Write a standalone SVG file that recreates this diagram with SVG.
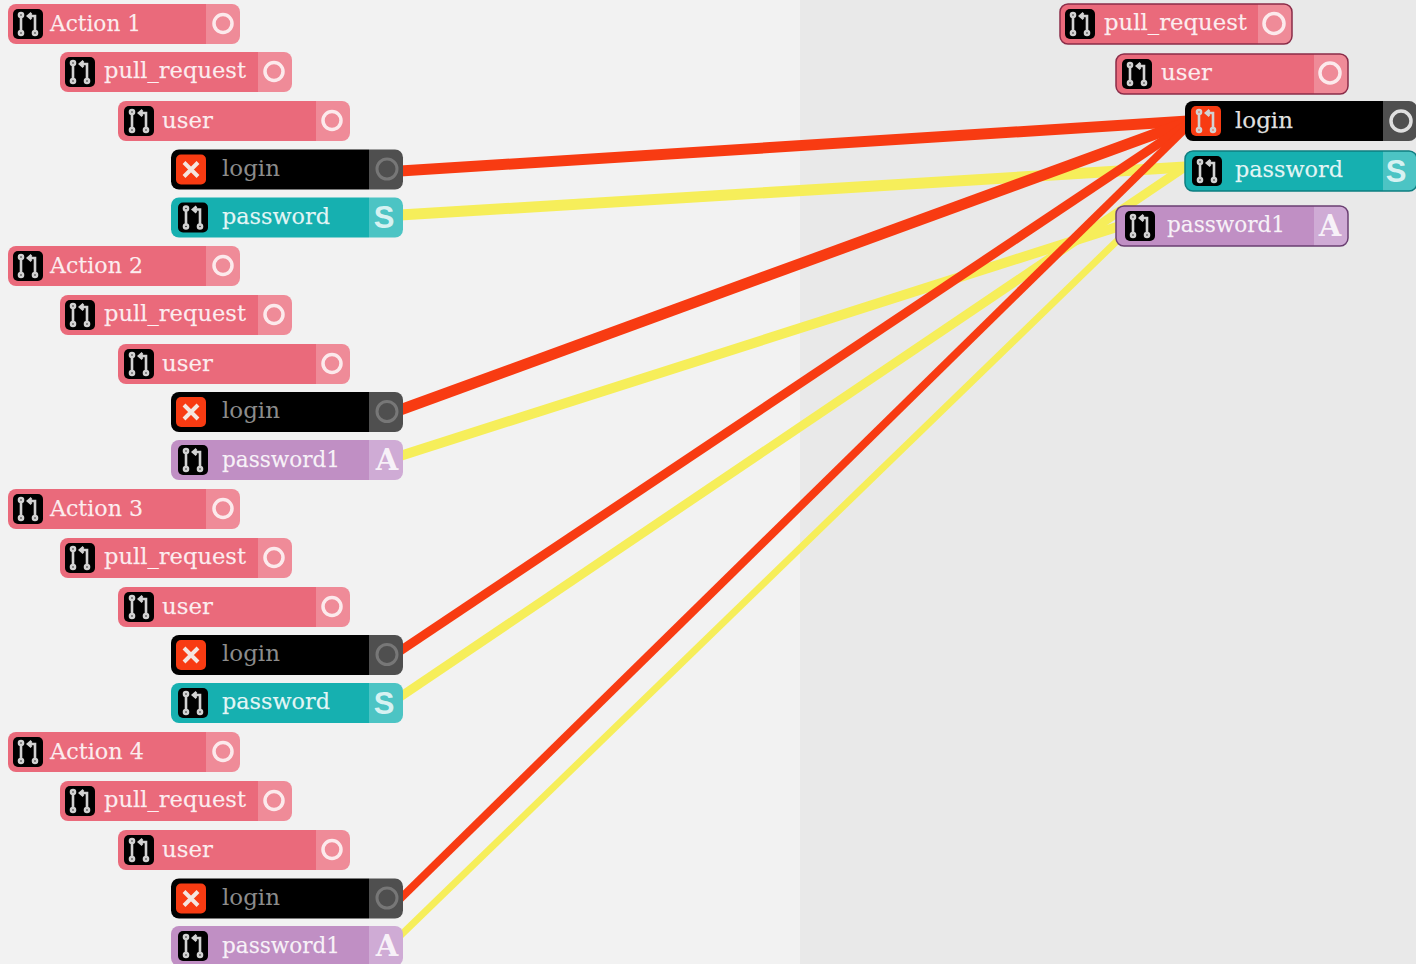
<svg xmlns="http://www.w3.org/2000/svg" xmlns:xlink="http://www.w3.org/1999/xlink" width="1416" height="964" viewBox="0 0 1416 964">
<style>
.t{font-family:"DejaVu Serif","Liberation Serif",serif;font-size:22.5px;fill:#fff;fill-opacity:.88;stroke:#fff;stroke-width:.25;stroke-opacity:.6}
.dim{fill:#8c8c8c;fill-opacity:1;stroke:none}
.cl{font-size:29px;font-weight:bold;text-anchor:middle;fill:#fff;fill-opacity:.85;stroke:none}
.s{font-family:"Liberation Sans",sans-serif;font-size:31px;font-weight:bold;text-anchor:middle;fill:#fff;fill-opacity:.8}
.red .b{fill:#ea6a7b}.red .c{fill:#ef8b98}
.blk .b{fill:#000}.blk .c{fill:#4f4f4f}
.teal .b{fill:#16b0b0}.teal .c{fill:#4cc4c4}
.pur .b{fill:#c08fc4}.pur .c{fill:#cfabd5}
.ring{fill:none;stroke:#fff;stroke-width:3.5;stroke-opacity:.82}
.ringd{fill:none;stroke:#777;stroke-width:3}
.bd{fill:none;stroke-width:1.5}
.r{stroke:#f83b12;fill:none}.y{stroke:#f6ee5a;fill:none}
.ic{fill:none;stroke:#d2d2d2;stroke-width:2.6}
</style>
<defs>
<path id="body" d="M8 0H198V40H8A8 8 0 0 1 0 32V8A8 8 0 0 1 8 0Z"/>
<path id="cap" d="M198 0H224A8 8 0 0 1 232 8V32A8 8 0 0 1 224 40H198Z"/>
<rect id="outline" width="232" height="40" rx="8"/>
<g id="pr">
<path class="ic" d="M-7-7V7M7 7V-8H1M3.500-11L0-8L3.500-5"/>
<circle class="ic" cx="-7" cy="-9" r="2" stroke-width="2"/><circle class="ic" cx="-7" cy="9" r="2" stroke-width="2"/><circle class="ic" cx="7" cy="9" r="2" stroke-width="2"/>
</g>
<g id="icon"><rect x="-15" y="-15" width="30" height="30" rx="5" fill="#000"/><use href="#pr"/></g>
<g id="iconr"><rect x="-15" y="-15" width="30" height="30" rx="5" fill="#f83b12"/><use href="#pr"/></g>
<g id="iconx"><rect x="-15" y="-15" width="30" height="30" rx="5" fill="#f83b12"/><path d="M-7-7L7 7M7-7L-7 7" stroke="#f4e6e0" stroke-width="4"/></g>
</defs>
<rect width="800" height="964" fill="#f2f2f2"/>
<rect x="800" width="616" height="964" fill="#e9e9e9"/>
<g id="connectors" stroke-linecap="butt">
<line class="y" x1="400" y1="215" x2="1185" y2="167" stroke-width="11"/>
<line class="y" x1="400" y1="456" x2="1120" y2="226" stroke-width="10"/>
<line class="y" x1="400" y1="697" x2="1185" y2="167" stroke-width="9"/>
<line class="y" x1="400" y1="936" x2="1120" y2="238" stroke-width="7"/>
<line class="r" x1="400" y1="171" x2="1188" y2="121" stroke-width="11"/>
<line class="r" x1="400" y1="410" x2="1188" y2="122" stroke-width="11"/>
<line class="r" x1="400" y1="651" x2="1188" y2="124" stroke-width="9"/>
<line class="r" x1="400" y1="899" x2="1188" y2="126" stroke-width="8"/>
</g>
<g id="a1" class="red" transform="translate(8 4)"><use href="#body" class="b"/><use href="#cap" class="c"/><use href="#icon" x="20" y="20"/><circle class="ring" cx="215" cy="19.500" r="9"/><text class="t" x="42" y="27" textLength="91" lengthAdjust="spacingAndGlyphs">Action 1</text></g>
<g id="a1-pr" class="red" transform="translate(60 52)"><use href="#body" class="b"/><use href="#cap" class="c"/><use href="#icon" x="20" y="20"/><circle class="ring" cx="214" cy="19.500" r="9"/><text class="t" x="44" y="26" textLength="142" lengthAdjust="spacingAndGlyphs">pull_request</text></g>
<g id="a1-user" class="red" transform="translate(118 101)"><use href="#body" class="b"/><use href="#cap" class="c"/><use href="#icon" x="21" y="20"/><circle class="ring" cx="214" cy="19.500" r="9"/><text class="t" x="44" y="27" textLength="51" lengthAdjust="spacingAndGlyphs">user</text></g>
<g id="a1-login" class="blk" transform="translate(171 149.500)"><use href="#body" class="b"/><use href="#cap" class="c"/><use href="#iconx" x="20" y="20"/><circle class="ringd" cx="216" cy="19.500" r="10"/><text class="t dim" x="51" y="26" textLength="58" lengthAdjust="spacingAndGlyphs">login</text></g>
<g id="a1-pw" class="teal" transform="translate(171 197.500)"><use href="#body" class="b"/><use href="#cap" class="c"/><use href="#icon" x="22" y="20"/><text class="s" x="213" y="30">S</text><text class="t" x="51" y="26" textLength="108" lengthAdjust="spacingAndGlyphs">password</text></g>
<g id="a2" class="red" transform="translate(8 246)"><use href="#body" class="b"/><use href="#cap" class="c"/><use href="#icon" x="20" y="20"/><circle class="ring" cx="215" cy="19.500" r="9"/><text class="t" x="42" y="27" textLength="93" lengthAdjust="spacingAndGlyphs">Action 2</text></g>
<g id="a2-pr" class="red" transform="translate(60 295)"><use href="#body" class="b"/><use href="#cap" class="c"/><use href="#icon" x="20" y="20"/><circle class="ring" cx="214" cy="19.500" r="9"/><text class="t" x="44" y="26" textLength="142" lengthAdjust="spacingAndGlyphs">pull_request</text></g>
<g id="a2-user" class="red" transform="translate(118 344)"><use href="#body" class="b"/><use href="#cap" class="c"/><use href="#icon" x="21" y="20"/><circle class="ring" cx="214" cy="19.500" r="9"/><text class="t" x="44" y="27" textLength="51" lengthAdjust="spacingAndGlyphs">user</text></g>
<g id="a2-login" class="blk" transform="translate(171 392)"><use href="#body" class="b"/><use href="#cap" class="c"/><use href="#iconx" x="20" y="20"/><circle class="ringd" cx="216" cy="19.500" r="10"/><text class="t dim" x="51" y="26" textLength="58" lengthAdjust="spacingAndGlyphs">login</text></g>
<g id="a2-pw" class="pur" transform="translate(171 440)"><use href="#body" class="b"/><use href="#cap" class="c"/><use href="#icon" x="22" y="20"/><text class="t cl" x="216" y="30">A</text><text class="t" x="51" y="27" textLength="118" lengthAdjust="spacingAndGlyphs">password1</text></g>
<g id="a3" class="red" transform="translate(8 489)"><use href="#body" class="b"/><use href="#cap" class="c"/><use href="#icon" x="20" y="20"/><circle class="ring" cx="215" cy="19.500" r="9"/><text class="t" x="42" y="27" textLength="93" lengthAdjust="spacingAndGlyphs">Action 3</text></g>
<g id="a3-pr" class="red" transform="translate(60 538)"><use href="#body" class="b"/><use href="#cap" class="c"/><use href="#icon" x="20" y="20"/><circle class="ring" cx="214" cy="19.500" r="9"/><text class="t" x="44" y="26" textLength="142" lengthAdjust="spacingAndGlyphs">pull_request</text></g>
<g id="a3-user" class="red" transform="translate(118 587)"><use href="#body" class="b"/><use href="#cap" class="c"/><use href="#icon" x="21" y="20"/><circle class="ring" cx="214" cy="19.500" r="9"/><text class="t" x="44" y="27" textLength="51" lengthAdjust="spacingAndGlyphs">user</text></g>
<g id="a3-login" class="blk" transform="translate(171 635)"><use href="#body" class="b"/><use href="#cap" class="c"/><use href="#iconx" x="20" y="20"/><circle class="ringd" cx="216" cy="19.500" r="10"/><text class="t dim" x="51" y="26" textLength="58" lengthAdjust="spacingAndGlyphs">login</text></g>
<g id="a3-pw" class="teal" transform="translate(171 683)"><use href="#body" class="b"/><use href="#cap" class="c"/><use href="#icon" x="22" y="20"/><text class="s" x="213" y="31">S</text><text class="t" x="51" y="26" textLength="108" lengthAdjust="spacingAndGlyphs">password</text></g>
<g id="a4" class="red" transform="translate(8 732)"><use href="#body" class="b"/><use href="#cap" class="c"/><use href="#icon" x="20" y="20"/><circle class="ring" cx="215" cy="19.500" r="9"/><text class="t" x="42" y="27" textLength="94" lengthAdjust="spacingAndGlyphs">Action 4</text></g>
<g id="a4-pr" class="red" transform="translate(60 781)"><use href="#body" class="b"/><use href="#cap" class="c"/><use href="#icon" x="20" y="20"/><circle class="ring" cx="214" cy="19.500" r="9"/><text class="t" x="44" y="26" textLength="142" lengthAdjust="spacingAndGlyphs">pull_request</text></g>
<g id="a4-user" class="red" transform="translate(118 830)"><use href="#body" class="b"/><use href="#cap" class="c"/><use href="#icon" x="21" y="20"/><circle class="ring" cx="214" cy="19.500" r="9"/><text class="t" x="44" y="27" textLength="51" lengthAdjust="spacingAndGlyphs">user</text></g>
<g id="a4-login" class="blk" transform="translate(171 878.500)"><use href="#body" class="b"/><use href="#cap" class="c"/><use href="#iconx" x="20" y="20"/><circle class="ringd" cx="216" cy="19.500" r="10"/><text class="t dim" x="51" y="26" textLength="58" lengthAdjust="spacingAndGlyphs">login</text></g>
<g id="a4-pw" class="pur" transform="translate(171 926)"><use href="#body" class="b"/><use href="#cap" class="c"/><use href="#icon" x="22" y="20"/><text class="t cl" x="216" y="30">A</text><text class="t" x="51" y="27" textLength="118" lengthAdjust="spacingAndGlyphs">password1</text></g>
<g id="out-pr" class="red" transform="translate(1060 4)"><use href="#body" class="b"/><use href="#cap" class="c"/><use href="#outline" class="bd" stroke="#8a2c48"/><use href="#icon" x="20" y="20"/><circle class="ring" cx="214" cy="19.500" r="10"/><text class="t" x="44" y="26" textLength="143" lengthAdjust="spacingAndGlyphs">pull_request</text></g>
<g id="out-user" class="red" transform="translate(1116 54)"><use href="#body" class="b"/><use href="#cap" class="c"/><use href="#outline" class="bd" stroke="#8a2c48"/><use href="#icon" x="21" y="20"/><circle class="ring" cx="214" cy="19" r="10"/><text class="t" x="45" y="26" textLength="51" lengthAdjust="spacingAndGlyphs">user</text></g>
<g id="out-login" class="blk" transform="translate(1185 101)"><use href="#body" class="b"/><use href="#cap" class="c"/><use href="#iconr" x="21" y="20"/><circle class="ring" cx="216" cy="20" r="10"/><text class="t" x="50" y="27" textLength="58" lengthAdjust="spacingAndGlyphs">login</text></g>
<g id="out-pw" class="teal" transform="translate(1185 151)"><use href="#body" class="b"/><use href="#cap" class="c"/><use href="#outline" class="bd" stroke="#0e7d80"/><use href="#icon" x="22" y="20"/><text class="s" x="211" y="31">S</text><text class="t" x="50" y="26" textLength="108" lengthAdjust="spacingAndGlyphs">password</text></g>
<g id="out-pw1" class="pur" transform="translate(1116 206)"><use href="#body" class="b"/><use href="#cap" class="c"/><use href="#outline" class="bd" stroke="#6a3f72"/><use href="#icon" x="24" y="20"/><text class="t cl" x="214" y="30">A</text><text class="t" x="51" y="26" textLength="118" lengthAdjust="spacingAndGlyphs">password1</text></g>
</svg>
